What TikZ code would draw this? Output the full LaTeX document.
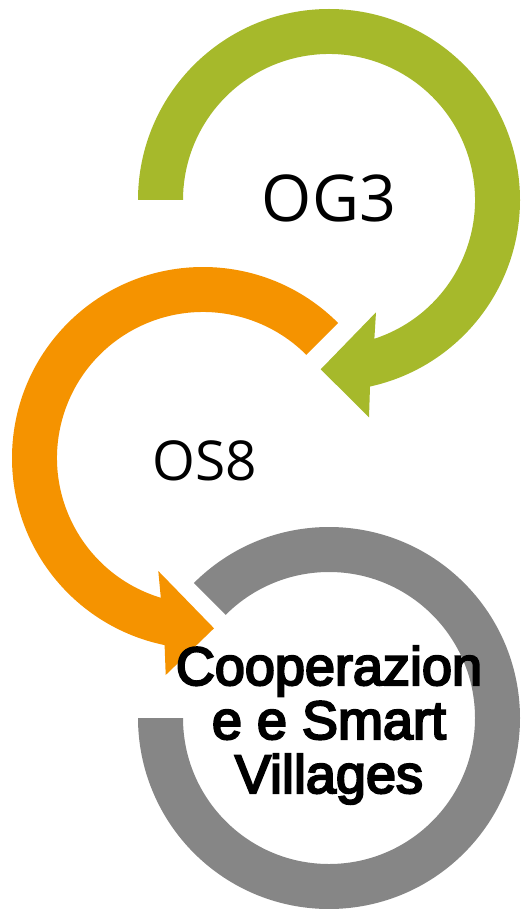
\documentclass[tikz,border=0pt]{standalone}
\usepackage{fontspec}
\usetikzlibrary{calc}
\newfontfamily\ogfont{Open Sans}
\newfontfamily\cvfont[FakeBold=4]{Liberation Sans}
\definecolor{ogreen}{HTML}{A6B92B}
\definecolor{oorange}{HTML}{F59300}
\definecolor{ogray}{HTML}{868686}

\begin{document}
\begin{tikzpicture}[x=1pt,y=1pt,
	lbl/.style={inner sep=0,anchor=base,font=\ogfont\fontsize{#1}{#1}\selectfont}]
	\useasboundingbox (0,0) rectangle (520,-909);
	\coordinate (g) at (329,-200);
	\coordinate (o) at (203,-458);
	\coordinate (s) at (329,-718);
	% green arrow
	\fill[ogreen] ($(g)+(180:191)$) arc[start angle=180,end angle=-77.6,radius=191]
		-- (369,-417.3) -- (320.7,-369.3) -- (376,-312.3)
		-- ($(g)+(-71.9:146)$) arc[start angle=-71.9,end angle=180,radius=146] -- cycle;
	% orange arrow
	\fill[oorange] ($(o)+(45:191)$) arc[start angle=45,end angle=258.4,radius=191]
		-- (165.7,-675) -- (214,-628.3) -- (158.3,-571)
		-- ($(o)+(253.2:146)$) arc[start angle=253.2,end angle=45,radius=146] -- cycle;
	% grey ring
	\fill[ogray] ($(s)+(135:191)$) arc[start angle=135,end angle=-180,radius=191]
		-- ($(s)+(180:146)$) arc[start angle=-180,end angle=135,radius=146] -- cycle;
	\node[lbl=64.5] (og3) at (329,-221.7) {OG3};
	\node[lbl=55] (os8) at (205,-480) {OS8};
	\node[inner sep=0,align=center,font=\cvfont\fontsize{54}{54}\selectfont] (cv) at (329,-725)
		{Cooperazion\\e e Smart\\Villages};
\end{tikzpicture}
\end{document}
